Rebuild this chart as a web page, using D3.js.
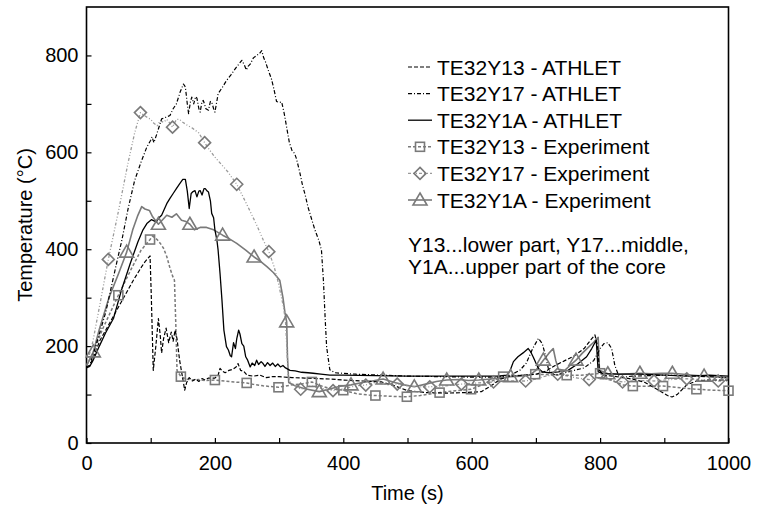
<!DOCTYPE html>
<html>
<head>
<meta charset="utf-8">
<script src="https://cdn.jsdelivr.net/npm/d3@7"></script>
<style>
  html, body { margin: 0; padding: 0; background: #fff; }
  svg { display: block; font-family: Arial, 'Liberation Sans', sans-serif; }
</style>
</head>
<body>
<div id="chart"></div>
<script>
// ── Data: [time (s), temperature (°C), marker flag] ──
const y13Athlet = [[0,157],[5,160],[11,178],[21,212],[35,245],[47,274],[60,305],[73,336],[85,362],[91,374],[99,386],[101,300],[104,150],[108,200],[112,257],[115,220],[117,186],[120,215],[124,237],[128,207],[132,229],[135,210],[138,233],[141,215],[145,171],[149,140],[153,109],[156,125],[160,135],[165,128],[170,132],[175,127],[180,133],[185,130],[190,134],[200,134],[205,140],[208,154],[212,148],[216,145],[222,150],[228,152],[233,157],[236,164],[240,150],[245,148],[250,140],[260,138],[270,140],[280,135],[290,137],[300,137],[320,135],[340,134],[360,133],[380,132],[400,130],[430,128],[460,126],[480,118],[500,108],[530,104],[560,103],[590,104],[615,106],[630,118],[645,132],[660,138],[680,140],[700,142],[715,148],[730,160],[745,170],[760,180],[775,195],[785,212],[792,223],[796,200],[799,150],[805,140],[820,138],[850,132],[870,125],[890,110],[905,98],[912,95],[920,100],[935,120],[950,128],[970,130],[1000,130]];

const y17Athlet = [[0,157],[5,160],[12,190],[20,225],[30,270],[40,330],[48,378],[55,418],[65,485],[75,542],[85,580],[94,611],[100,625],[102,632],[105,620],[110,640],[117,669],[123,672],[130,676],[135,690],[140,700],[146,725],[151,741],[154,735],[157,700],[159,680],[162,705],[164,714],[167,700],[170,715],[172,712],[175,690],[177,683],[180,705],[182,707],[186,690],[190,687],[193,705],[195,704],[198,690],[200,683],[203,705],[205,721],[212,735],[218,748],[225,760],[233,775],[242,790],[246,780],[249,770],[252,778],[255,782],[260,795],[265,800],[270,805],[273,810],[276,795],[279,786],[283,770],[288,752],[292,730],[296,705],[300,703],[304,704],[308,680],[312,650],[316,620],[320,604],[324,598],[327,587],[332,560],[336,535],[341,510],[345,487],[350,465],[356,439],[362,418],[366,398],[369,336],[372,250],[374,199],[377,170],[379,151],[383,148],[387,145],[420,142],[460,140],[500,138],[550,137],[600,136],[640,136],[660,140],[675,150],[685,165],[695,195],[704,216],[710,205],[715,180],[720,150],[730,140],[745,145],[760,150],[775,155],[790,170],[800,195],[806,205],[812,207],[818,195],[823,160],[830,135],[850,138],[900,140],[950,138],[1000,135]];

const y1aAthlet = [[0,155],[5,158],[10,170],[20,200],[30,228],[42,257],[55,318],[68,370],[80,415],[88,440],[94,453],[101,461],[106,458],[109,457],[113,465],[117,470],[121,482],[125,494],[130,505],[135,515],[140,525],[145,535],[150,544],[154,544],[157,520],[160,484],[163,515],[166,519],[169,521],[172,508],[175,520],[177,521],[180,512],[183,525],[185,525],[188,520],[190,518],[193,500],[195,474],[198,465],[200,440],[203,420],[205,398],[208,350],[211,295],[214,233],[218,199],[221,192],[224,180],[226,178],[229,207],[232,195],[234,215],[237,233],[239,225],[242,205],[245,200],[248,178],[251,171],[255,157],[258,165],[262,160],[265,171],[268,162],[272,168],[275,164],[278,158],[282,166],[286,160],[290,165],[294,158],[298,163],[302,157],[306,160],[310,155],[317,150],[325,149],[335,146],[345,145],[353,144],[365,142],[379,140],[400,140],[450,139],[500,138],[550,138],[600,138],[640,138],[655,140],[660,150],[665,168],[672,178],[680,186],[688,195],[692,188],[696,177],[700,165],[704,154],[710,147],[720,145],[735,147],[750,150],[765,163],[779,178],[787,195],[794,212],[797,147],[805,143],[830,142],[860,142],[900,140],[940,138],[970,140],[1000,138]];

const y13Exp = [[0,160],[10,185],[25,235],[49.6,305,1],[70,360],[85,398],[99,420,1],[103,427],[110,420],[115,412],[120,402],[125,385],[130,361],[134,345],[137,336],[139,250],[141,150],[147,137,1],[155,132],[165,130],[175,131],[185,129],[200,130,1],[215,128],[230,126],[249.5,124,1],[260,121],[275,118],[299,115,1],[320,120],[336,122],[351,126,1],[365,118],[380,112],[400,109,1],[420,102],[440,99],[450,98,1],[465,97],[480,96],[499,95.5,1],[520,98],[535,101],[550,104,1],[575,108],[599,111,1],[620,122],[649,137,1],[670,139],[699,142,1],[720,141],[748,140,1],[770,140],[800,144,1],[820,128],[835,120],[851,117.5,1],[875,117],[898,117.5,1],[925,114],[950,111,1],[975,109],[1000,108,1]];

const y17Exp = [[0,160],[10,210],[20,280],[34,379,1],[50,480],[65,580],[75,640],[84,682,1],[90,676],[95,672],[100,668],[105,660],[110,655],[115,665],[120,662],[125,668],[130,660],[134,652,1],[140,668],[145,668],[150,662],[158,655],[165,650],[175,640],[184,620,1],[190,608],[200,590],[210,575],[220,560],[234,534,1],[245,505],[255,478],[265,450],[275,420],[284,395,1],[292,365],[298,335],[303,305],[307,280],[310,250],[312,200],[314,140],[318,125],[333.6,111,1],[350,118],[365,113],[384,108,1],[400,112],[420,118],[435,119.6,1],[450,125],[470,120],[484,121.6,1],[500,118],[520,116],[534.6,116,1],[560,118],[584,121.6,1],[610,124],[634,126,1],[660,128],[684,128,1],[700,132],[715,138],[734,142,1],[750,138],[765,134],[783,131,1],[800,134],[815,130],[835,126,1],[860,129],[884,128,1],[910,131],[935,132.6,1],[960,130],[984,128,1],[1000,128]];

const y1aExp = [[0,160],[5,172],[10.6,188,1],[20,235],[35,300],[50,350],[62.6,394,1],[72,440],[80,470],[86,488],[91,483],[98,480],[103,467],[112,451.5,1],[120,463],[125,470],[133,466],[140,473],[148,460],[155,457],[161,451.5,1],[168,440],[177,445],[187,445],[198,440],[212,429,1],[222,422],[234,412],[248,398],[261,384,1],[271,375],[281,364],[291,352],[301,336],[306,300],[309,270],[311.8,250,1],[313,180],[315,125],[325,118],[340,112],[362.6,106,1],[380,112],[395,117],[412,120,1],[430,125],[445,128],[462,132,1],[480,125],[495,120],[510.6,116,1],[530,122],[545,127],[561,130,1],[580,131],[595,129],[611,130,1],[630,132],[645,134],[660.7,137,1],[675,138],[690,140],[700,150],[711.6,171,1],[720,185],[727,195],[731,170],[735,152],[745,150],[753,160],[762.5,171,1],[772,185],[782,198],[790,208],[797,218],[799,150],[812,143,1],[830,142],[845,143],[862,144,1],[880,143],[895,144],[912.5,144,1],[930,142],[945,140],[962,138,1],[980,137],[1000,134]];

const xTicks = [0,100,200,300,400,500,600,700,800,900,1000];
const yTicks = [0,100,200,300,400,500,600,700,800];
const legendLabels = ['TE32Y13 - ATHLET','TE32Y17 - ATHLET','TE32Y1A - ATHLET',
  'TE32Y13 - Experiment','TE32Y17 - Experiment','TE32Y1A - Experiment'];
const noteLines = ['Y13...lower part, Y17...middle,','Y1A...upper part of the core'];

// ── Series styles ──
const GRAY = '#7a7a7a';
const series = [
  { data: y13Athlet, color: '#000', width: 1.2, dash: '4,2', marker: null },
  { data: y17Athlet, color: '#000', width: 1.2, dash: '4,2,1,2', marker: null },
  { data: y1aAthlet, color: '#000', width: 1.3, dash: null, marker: null },
  { data: y13Exp, color: GRAY, width: 1.5, dash: '3,2', marker: 'square' },
  { data: y17Exp, color: '#9a9a9a', width: 1.3, dash: '3,2,1,2,1,2', marker: 'diamond', mcolor: GRAY },
  { data: y1aExp, color: GRAY, width: 1.6, dash: null, marker: 'triangle' },
];

const W = 760, H = 508;
const P = { left: 86.5, right: 728.5, top: 7, bottom: 443 };

const svg = d3.select('#chart').append('svg').attr('width', W).attr('height', H);

const x = d3.scaleLinear().domain([0, 1000]).range([P.left, P.right]);
const y = d3.scaleLinear().domain([0, 900]).range([P.bottom, P.top]);

svg.append('defs').append('clipPath').attr('id', 'plot-clip')
  .append('rect').attr('x', P.left).attr('y', P.top)
  .attr('width', P.right - P.left).attr('height', P.bottom - P.top);

// ── Axes (ticks inward, labels on even hundreds) ──
const xAxis = d3.axisBottom(x).tickValues(xTicks).tickSize(-5).tickPadding(13)
  .tickFormat(d => d % 200 === 0 ? d : '');
const yAxis = d3.axisLeft(y).tickValues(yTicks).tickSize(-5).tickPadding(8)
  .tickFormat(d => d % 200 === 0 ? d : '');

const gx = svg.append('g').attr('transform', `translate(0,${P.bottom})`).call(xAxis);
const gy = svg.append('g').attr('transform', `translate(${P.left},0)`).call(yAxis);
[gx, gy].forEach(g => {
  g.select('.domain').remove();
  g.selectAll('.tick line').attr('stroke', '#000').attr('stroke-width', 1.2);
  g.selectAll('text').attr('fill', '#000').style('font-size', '20px')
    .style('font-family', "Arial, 'Liberation Sans', sans-serif");
});

// frame
svg.append('rect')
  .attr('x', P.left).attr('y', P.top)
  .attr('width', P.right - P.left).attr('height', P.bottom - P.top)
  .attr('fill', 'none').attr('stroke', '#000').attr('stroke-width', 1.6);

// axis titles
svg.append('text').attr('x', (P.left + P.right) / 2).attr('y', 500)
  .attr('text-anchor', 'middle').style('font-size', '20px').text('Time (s)');
svg.append('text').attr('transform', `translate(32,${(P.top + P.bottom) / 2}) rotate(-90)`)
  .attr('text-anchor', 'middle').style('font-size', '20px').text('Temperature (°C)');

// ── Markers ──
function drawMarker(g, type, cx, cy, color) {
  if (type === 'square') {
    g.append('rect').attr('x', cx - 4.5).attr('y', cy - 4.5).attr('width', 9).attr('height', 9)
      .attr('fill', 'none').attr('stroke', color).attr('stroke-width', 1.6);
  } else if (type === 'diamond') {
    g.append('path').attr('d', `M${cx},${cy - 6}L${cx + 6},${cy}L${cx},${cy + 6}L${cx - 6},${cy}Z`)
      .attr('fill', 'none').attr('stroke', color).attr('stroke-width', 1.6);
  } else if (type === 'triangle') {
    g.append('path').attr('d', `M${cx},${cy - 7}L${cx + 7},${cy + 5}L${cx - 7},${cy + 5}Z`)
      .attr('fill', 'none').attr('stroke', color).attr('stroke-width', 1.6);
  }
}

// ── Lines ──
const line = d3.line().x(d => x(d[0])).y(d => y(d[1]));
const plot = svg.append('g').attr('clip-path', 'url(#plot-clip)');

series.slice().reverse().forEach(s => {
  plot.append('path').datum(s.data)
    .attr('d', line)
    .attr('fill', 'none')
    .attr('stroke', s.color)
    .attr('stroke-width', s.width)
    .attr('stroke-linejoin', 'round')
    .attr('stroke-dasharray', s.dash);
  if (s.marker) {
    s.data.filter(d => d[2]).forEach(d => drawMarker(svg, s.marker, x(d[0]), y(d[1]), s.mcolor || s.color));
  }
});

// ── Legend ──
const legend = svg.append('g');
legendLabels.forEach((lab, i) => {
  const s = series[i];
  const ly = 67 + i * 26.6;
  legend.append('line').attr('x1', 408).attr('x2', 432).attr('y1', ly).attr('y2', ly)
    .attr('stroke', s.color).attr('stroke-width', s.width).attr('stroke-dasharray', s.dash);
  if (s.marker) drawMarker(legend, s.marker, 420, ly, s.mcolor || s.color);
  legend.append('text').attr('x', 437).attr('y', ly).attr('dy', '0.36em')
    .style('font-size', '21px').text(lab);
});

// ── Note ──
noteLines.forEach((t, i) => {
  svg.append('text').attr('x', 408).attr('y', 252 + i * 22)
    .style('font-size', '21px').text(t);
});
</script>
</body>
</html>
